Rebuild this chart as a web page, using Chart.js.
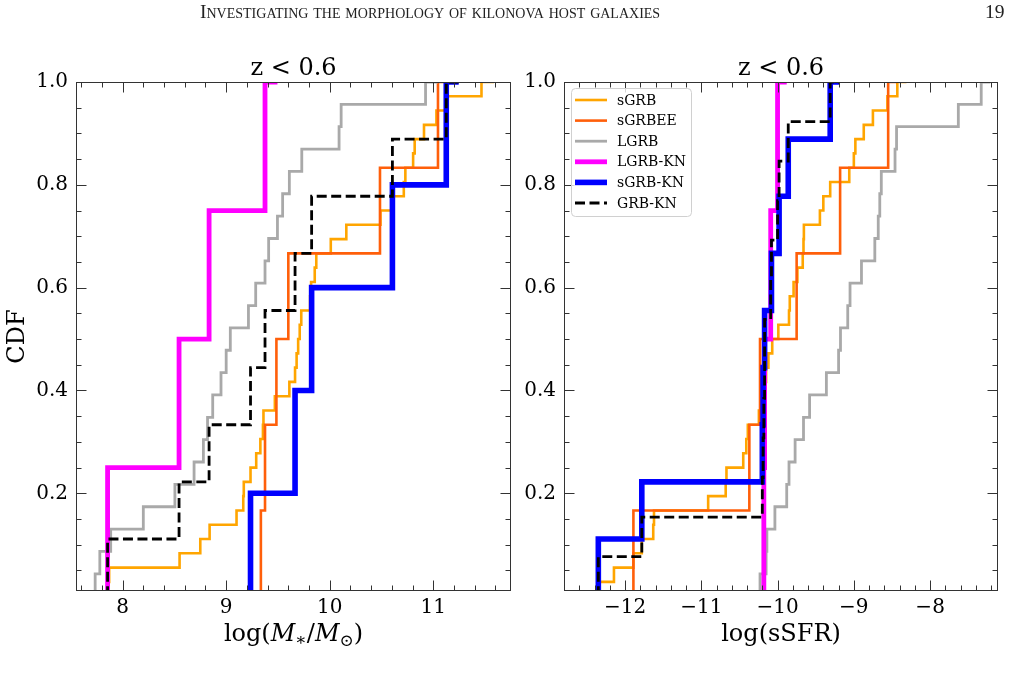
<!DOCTYPE html>
<html lang="en">
<head>
<meta charset="UTF-8">
<title>Kilonova host galaxies - CDFs</title>
<script src="https://cdn.jsdelivr.net/npm/chart.js@4.4.1/dist/chart.umd.min.js"></script>
<style>
  html, body { margin: 0; padding: 0; background: #fff; }
  #page { position: relative; width: 1018px; height: 683px; overflow: hidden; }
  canvas { position: absolute; top: 0; }
  #massChart { left: 0; }
  #ssfrChart { left: 520px; }
  .runhead {
    position: absolute; top: 1px; left: 200px; z-index: 2;
    font-family: "Liberation Serif", serif; font-variant: small-caps;
    font-size: 19.5px; color: #222; white-space: nowrap;
  }
  .folio {
    position: absolute; top: 1px; left: 985px; z-index: 2;
    font-family: "Liberation Serif", serif; font-size: 19.5px; color: #222;
  }
</style>
</head>
<body>
<div id="page">
  <div class="runhead">Investigating the morphology of kilonova host galaxies</div>
  <div class="folio">19</div>
  <canvas id="massChart" width="520" height="683"></canvas>
  <canvas id="ssfrChart" width="498" height="683"></canvas>
</div>
<script>
// ---- data (z < 0.6 samples) ----
// log(M*/Msun)
const massSGRB = [7.86, 7.87, 8.55, 8.75, 8.84, 9.10, 9.165, 9.17, 9.235, 9.29, 9.33, 9.355,
  9.36, 9.47, 9.61, 9.665, 9.68, 9.695, 9.71, 9.725, 9.81, 9.82, 9.855, 9.87,
  10.01, 10.16, 10.49, 10.60, 10.715, 10.73, 10.805, 10.82, 10.91, 11.03, 11.12, 11.465];
const massSGRBEE = [9.335, 9.375, 9.485, 9.60, 10.485, 11.045];
const massLGRB = [7.735, 7.78, 7.885, 8.20, 8.505, 8.69, 8.78, 8.82, 8.87, 8.95, 9.00, 9.04,
  9.215, 9.285, 9.375, 9.41, 9.495, 9.545, 9.61, 9.73, 10.09, 10.11, 10.925];
const massLGRBKN = [7.855, 8.545, 8.835, 9.375];
const massSGRBKN = [9.235, 9.665, 9.825, 10.605, 11.125];
const massGRBKN = [7.855, 8.545, 8.835, 9.235, 9.375, 9.665, 9.825, 10.605, 11.125];

// log(sSFR)
const ssfrSGRB = [-12.34, -12.145, -11.89, -11.78, -11.63, -11.62, -10.91, -10.68, -10.67, -10.45, -10.41, -10.39,
  -10.245, -10.20, -10.18, -10.15, -10.12, -10.07, -9.99, -9.85, -9.84, -9.79, -9.74, -9.67,
  -9.66, -9.655, -9.445, -9.40, -9.31, -9.06, -9.00, -8.98, -8.87, -8.75, -8.56, -8.43];
const ssfrSGRBEE = [-11.89, -10.37, -10.23, -9.75, -9.18, -8.55];
const ssfrLGRB = [-10.23, -10.15, -10.14, -10.035, -9.88, -9.85, -9.77, -9.66, -9.58, -9.36, -9.20, -9.175,
  -9.08, -9.05, -8.90, -8.725, -8.68, -8.66, -8.64, -8.46, -8.44, -7.63, -7.33];
const ssfrLGRBKN = [-10.18, -10.17, -10.09, -10.00];
const ssfrSGRBKN = [-12.35, -11.78, -10.20, -10.19, -10.17, -10.08, -9.98, -9.86, -9.31];
const ssfrGRBKN = [-12.35, -11.78, -10.20, -10.19, -10.18, -10.17, -10.17, -10.09, -10.08, -10.00, -9.98, -9.86, -9.31];

const sampleNames = ['sGRB', 'sGRBEE', 'LGRB', 'LGRB-KN', 'sGRB-KN', 'GRB-KN'];
const massTicks = [8, 9, 10, 11];
const ssfrTicks = [-12, -11, -10, -9, -8];
const cdfTicks = [0.2, 0.4, 0.6, 0.8, 1.0];

const styles = [
  { color: '#ffa500', width: 2.6 },
  { color: '#ff5f0a', width: 2.6 },
  { color: '#a9a9a9', width: 2.8 },
  { color: '#ff00ff', width: 4.8 },
  { color: '#0000ff', width: 5.6 },
  { color: '#000000', width: 2.8, dash: [10, 4.5] }
];
const CAP = 0.12; // the curves run on a little past their last value at CDF = 1

const SERIF = "'DejaVu Serif', serif";
Chart.defaults.font.family = SERIF;
Chart.defaults.color = '#000';

// empirical CDF; drawn with horizontal-then-vertical steps
function cdf(vals) {
  const s = vals.slice().sort((a, b) => a - b);
  const n = s.length;
  const pts = [{ x: s[0], y: 0 }];
  s.forEach((v, i) => pts.push({ x: v, y: (i + 1) / n }));
  pts.push({ x: s[n - 1] + CAP, y: 1 });
  return pts;
}

function makeDatasets(groups) {
  return groups.map((vals, i) => ({
    label: sampleNames[i],
    data: cdf(vals),
    borderColor: styles[i].color,
    borderWidth: styles[i].width,
    borderDash: styles[i].dash || [],
    stepped: 'before',
    pointRadius: 0,
    fill: false,
    clip: 0,
    order: groups.length - i
  }));
}

function drawParts(ctx, parts, cx, baseline) {
  let total = 0;
  parts.forEach(p => { ctx.font = p.font; p.w = ctx.measureText(p.t).width; total += p.w; });
  let x = cx - total / 2;
  ctx.textAlign = 'left';
  ctx.textBaseline = 'alphabetic';
  parts.forEach(p => { ctx.font = p.font; ctx.fillText(p.t, x, baseline + (p.dy || 0)); x += p.w; });
}

const decor = {
  id: 'decor',
  afterDraw(chart, args, o) {
    const ctx = chart.ctx, a = chart.chartArea;
    const xs = chart.scales.x, ys = chart.scales.y;
    ctx.save();
    ctx.strokeStyle = '#333';
    ctx.lineWidth = 1;
    const L = Math.round(a.left) + 0.5, R = Math.round(a.right) - 0.5;
    const T = Math.round(a.top) + 0.5, B = Math.round(a.bottom) - 0.5;
    ctx.strokeRect(L, T, R - L, B - T);

    ctx.beginPath();
    // x ticks, pointing inwards on top and bottom
    for (let v = o.xMinorFrom; v <= xs.max + 1e-9; v += 0.2) {
      const major = Math.abs(v - Math.round(v)) < 1e-6;
      const len = major ? 10 : 5;
      const px = Math.round(xs.getPixelForValue(v)) + 0.5;
      if (px < L || px > R) continue;
      ctx.moveTo(px, B); ctx.lineTo(px, B - len);
      ctx.moveTo(px, T); ctx.lineTo(px, T + len);
    }
    // y ticks on both sides
    for (let k = 1; k <= 20; k++) {
      const v = k * 0.05;
      const major = k % 4 === 0;
      const len = major ? 10 : 5;
      const py = Math.round(ys.getPixelForValue(v)) + 0.5;
      ctx.moveTo(L, py); ctx.lineTo(L + len, py);
      ctx.moveTo(R, py); ctx.lineTo(R - len, py);
    }
    ctx.stroke();

    // panel title
    ctx.fillStyle = '#000';
    ctx.font = '24px ' + SERIF;
    ctx.textAlign = 'center';
    ctx.textBaseline = 'alphabetic';
    ctx.fillText('z < 0.6', (a.left + a.right) / 2, 75);

    // x axis title
    drawParts(ctx, o.xTitle, (a.left + a.right) / 2, 641);

    // y axis title
    if (o.yTitle) {
      ctx.save();
      ctx.translate(18, (a.top + a.bottom) / 2);
      ctx.rotate(-Math.PI / 2);
      ctx.font = '24px ' + SERIF;
      ctx.textAlign = 'center';
      ctx.textBaseline = 'middle';
      ctx.fillText(o.yTitle, 0, 0);
      ctx.restore();
    }

    // legend box inside the panel
    if (o.legend) {
      const bx = a.left + 7, by = 88, bw = 120, bh = 128, r = 4;
      ctx.beginPath();
      ctx.roundRect(bx + 0.5, by + 0.5, bw, bh, r);
      ctx.fillStyle = 'rgba(255,255,255,0.8)';
      ctx.fill();
      ctx.strokeStyle = '#d0d0d0';
      ctx.lineWidth = 1;
      ctx.stroke();
      ctx.font = '14px ' + SERIF;
      ctx.textAlign = 'left';
      ctx.textBaseline = 'middle';
      chart.data.datasets.forEach((ds, i) => {
        const ry = by + 12 + i * 20.6;
        ctx.beginPath();
        ctx.strokeStyle = ds.borderColor;
        ctx.lineWidth = ds.borderWidth;
        ctx.setLineDash(ds.borderDash);
        ctx.moveTo(bx + 4, ry);
        ctx.lineTo(bx + 36, ry);
        ctx.stroke();
        ctx.setLineDash([]);
        ctx.fillStyle = '#000';
        ctx.fillText(ds.label, bx + 46, ry + 1);
      });
    }
    ctx.restore();
  }
};

function fmt(v) {
  return v < 0 ? '\u2212' + Math.abs(v) : String(v);
}

function makeChart(id, groups, xmin, xmax, xTicks, yAxisWidth, padRight, extra) {
  return new Chart(document.getElementById(id), {
    type: 'line',
    data: { datasets: makeDatasets(groups) },
    options: {
      responsive: false,
      animation: false,
      devicePixelRatio: 1,
      layout: { padding: { top: 82, right: padRight, bottom: 0, left: 0 } },
      plugins: { legend: { display: false }, tooltip: { enabled: false }, decor: extra },
      scales: {
        x: {
          type: 'linear', min: xmin, max: xmax,
          grid: { display: false, drawTicks: false },
          border: { display: false },
          ticks: { font: { size: 20 }, color: '#000', padding: 5, maxRotation: 0, callback: v => fmt(v) },
          afterBuildTicks: s => { s.ticks = xTicks.map(v => ({ value: v })); },
          afterFit: s => { s.height = 92; }
        },
        y: {
          type: 'linear', min: 0.01, max: 1.0,
          grid: { display: false, drawTicks: false },
          border: { display: false },
          ticks: { font: { size: 20 }, color: '#000', padding: 8, callback: v => v.toFixed(1) },
          afterBuildTicks: s => { s.ticks = cdfTicks.map(v => ({ value: v })); },
          afterFit: s => { s.width = yAxisWidth; }
        }
      }
    },
    plugins: [decor]
  });
}

const italic = 'italic 24px ' + SERIF, upright = '24px ' + SERIF, small = '17px ' + SERIF;

makeChart('massChart',
  [massSGRB, massSGRBEE, massLGRB, massLGRBKN, massSGRBKN, massGRBKN],
  7.55, 11.75, massTicks, 76, 9,
  {
    xMinorFrom: 7.6,
    yTitle: 'CDF',
    legend: false,
    xTitle: [
      { t: 'log(', font: upright }, { t: 'M', font: italic }, { t: '\u2217', font: small, dy: 4 },
      { t: '/', font: upright }, { t: 'M', font: italic }, { t: '\u2299', font: small, dy: 5 },
      { t: ')', font: upright }
    ]
  });

makeChart('ssfrChart',
  [ssfrSGRB, ssfrSGRBEE, ssfrLGRB, ssfrLGRBKN, ssfrSGRBKN, ssfrGRBKN],
  -12.8, -7.11, ssfrTicks, 44, 20,
  {
    xMinorFrom: -12.8,
    yTitle: null,
    legend: true,
    xTitle: [{ t: 'log(sSFR)', font: upright }]
  });
</script>
</body>
</html>
